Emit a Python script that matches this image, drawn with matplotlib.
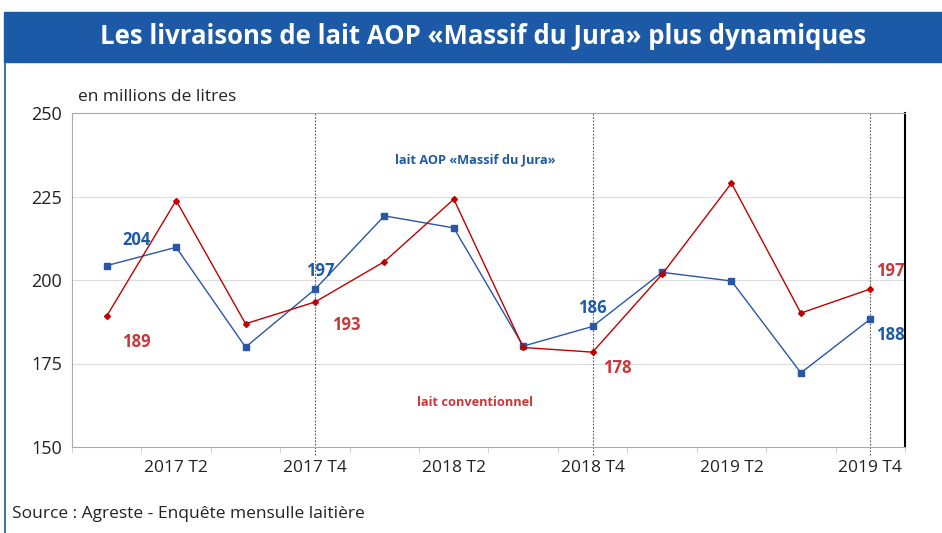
import numpy as np
import matplotlib.pyplot as plt
from matplotlib.patches import Rectangle

plt.rcParams['font.family'] = ['Open Sans', 'DejaVu Sans']

#%% data
quarters = ['2017 T1', '2017 T2', '2017 T3', '2017 T4',
            '2018 T1', '2018 T2', '2018 T3', '2018 T4',
            '2019 T1', '2019 T2', '2019 T3', '2019 T4']
aop = [204.3, 209.8, 179.9, 197.2, 219.2, 215.6, 180.2, 186.1, 202.3, 199.7, 172.2, 188.3]
conv = [189.2, 223.8, 186.9, 193.4, 205.5, 224.2, 179.8, 178.4, 201.7, 229.0, 190.1, 197.3]

# labelled points: index, text, offset in pixels
aop_labels = [(0, '204', (30, 26)), (3, '197', (5, 18)), (7, '186', (0, 18)), (11, '188', (20, -16))]
conv_labels = [(0, '189', (30, -26)), (3, '193', (31, -23)), (7, '178', (25, -16)), (11, '197', (20, 18))]

blue = '#2A56A5'
red = '#C00000'
blue_txt = '#1F5AA6'
red_txt = '#C8373A'
banner = '#1C59A6'

#%% figure
fig = plt.figure(figsize=(9.42, 5.33), dpi=100)

# banner + frame
fig.patches.append(Rectangle((4 / 942, 1 - 62 / 533), 938 / 942, 50 / 533,
                             transform=fig.transFigure, color=banner, zorder=0))
fig.add_artist(plt.Line2D([5 / 942, 5 / 942], [0, 1 - 62 / 533], transform=fig.transFigure,
                          color=banner, lw=1.2))
fig.text(483 / 942, 1 - 36 / 533, 'Les livraisons de lait AOP «Massif du Jura» plus dynamiques',
         color='white', fontsize=18.5, fontweight='bold', ha='center', va='center')

ax = fig.add_axes([72 / 942, 86 / 533, 833 / 942, 334 / 533])
x = np.arange(len(quarters))

ax.plot(x, aop, color=blue, lw=1, marker='s', ms=5, zorder=3)
ax.plot(x, conv, color=red, lw=1, marker='D', ms=3, zorder=3)

for i in [3, 7, 11]:
    ax.axvline(i, color='#555555', lw=0.8, ls=(0, (1.5, 1.5)), ymin=-0.025, clip_on=False, zorder=2)

ax.set_xlim(-0.5, 11.5)
ax.set_ylim(150, 250)
ax.set_yticks([150, 175, 200, 225, 250])
ax.set_xticks(x[1::2])
ax.set_xticklabels(quarters[1::2])
ax.set_xticks(np.arange(-0.5, 12, 1), minor=True)
ax.tick_params(axis='x', which='major', length=0, pad=9, labelsize=12.5, colors='#222222')
ax.tick_params(axis='x', which='minor', length=4, color='#CCCCCC')
ax.tick_params(axis='y', length=0, pad=7, labelsize=13, colors='#222222')
ax.grid(axis='y', color='#DDDDDD', lw=0.8)

for s in ['left', 'top', 'bottom']:
    ax.spines[s].set_color('#AAAAAA')
ax.spines['right'].set_color('black')
ax.spines['right'].set_linewidth(1.5)

for i, t, off in aop_labels:
    ax.annotate(t, (x[i], aop[i]), xytext=off, textcoords='offset pixels',
                ha='center', va='center', color=blue_txt, fontsize=12, fontweight='bold')
for i, t, off in conv_labels:
    ax.annotate(t, (x[i], conv[i]), xytext=off, textcoords='offset pixels',
                ha='center', va='center', color=red_txt, fontsize=12, fontweight='bold')

ax.text(5.31, 236, 'lait AOP «Massif du Jura»', color=blue_txt, fontsize=9.2,
        fontweight='bold', ha='center', va='center')
ax.text(5.31, 163.2, 'lait conventionnel', color=red_txt, fontsize=9.2,
        fontweight='bold', ha='center', va='center')

fig.text(78 / 942, 1 - 97 / 533, 'en millions de litres', fontsize=12.5, color='#222222', va='center')
fig.text(12 / 942, 1 - 514 / 533, 'Source : Agreste - Enquête mensulle laitière', fontsize=12.5,
         color='#222222', va='center')

plt.savefig('out.png', dpi=100)
